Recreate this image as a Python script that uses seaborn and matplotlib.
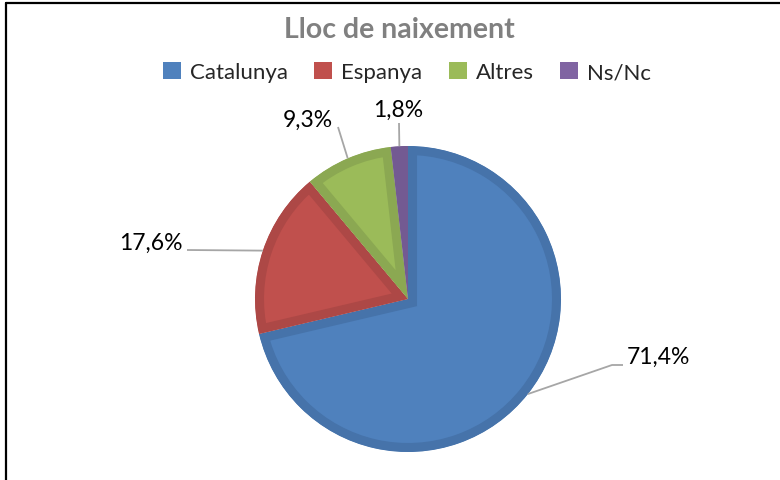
"""
Pie chart 'Lloc de naixement' (Excel style) redrawn with seaborn/matplotlib.
"""

import numpy as np
import matplotlib
matplotlib.use('Agg')
import matplotlib.pyplot as plt
import seaborn as sns
from matplotlib.lines import Line2D
from matplotlib.patches import Patch

W, H = 780, 481

categories = ['Catalunya', 'Espanya', 'Altres', 'Ns/Nc']
values = [71.4, 17.6, 9.3, 1.8]
value_labels = ['71,4%', '17,6%', '9,3%', '1,8%']
title = 'Lloc de naixement'

fill_colors = ['#4F81BD', '#C0504D', '#9BBB59', '#8064A2']
edge_colors = ['#4673AA', '#AD4846', '#8BA852', '#735A92']

# label anchor positions in pixels (x, y from top), and alignment
LABEL_POS = {
    'Catalunya': (627, 357, 'left'),
    'Espanya': (183, 243, 'right'),
    'Altres': (333, 120, 'right'),
    'Ns/Nc': (398, 110, 'center'),
}
# where each leader line ends near its label (pixels, y from top)
LEADER_END = {
    'Catalunya': [(612, 366), (623, 366)],
    'Espanya': [(187, 251)],
    'Altres': [(338, 128)],
    'Ns/Nc': [(399, 124)],
}

CENTER = (408, H - 300)
RADIUS = 153


def px(x, y):
    return x, H - y


sns.set_theme(style='white')
plt.rcParams['font.family'] = ['Lato', 'DejaVu Sans']

fig = plt.figure(figsize=(W / 100, H / 100), dpi=100)
fig.patch.set_facecolor('white')
ax = fig.add_axes([0, 0, 1, 1])

wedges, _ = ax.pie(
    values, colors=fill_colors, startangle=90, counterclock=False,
    center=CENTER, radius=RADIUS, frame=True,
)
ax.set_xlim(0, W)
ax.set_ylim(0, H)
ax.set_aspect('equal')
ax.axis('off')

# darker inner band along the wedge outline (clip the stroke to the wedge)
for w, ec in zip(wedges, edge_colors):
    w.set_edgecolor(ec)
    w.set_linewidth(13)
    w.set_clip_on(True)
    w.set_clip_path(w)

# data labels with leader lines
for w, cat, lab in zip(wedges, categories, value_labels):
    mid = np.deg2rad((w.theta1 + w.theta2) / 2)
    start = (CENTER[0] + RADIUS * np.cos(mid), CENTER[1] + RADIUS * np.sin(mid))
    pts = [start] + [px(*p) for p in LEADER_END[cat]]
    xs, ys = zip(*pts)
    ax.plot(xs, ys, color='#A6A6A6', lw=1.3, solid_capstyle='butt', zorder=3)
    tx, ty, ha = LABEL_POS[cat]
    ax.text(*px(tx, ty), lab, ha=ha, va='center', fontsize=16.5, color='black')

fig.text(399 / W, 1 - 30 / H, title, ha='center', va='center',
         fontsize=20.5, fontweight='bold', color='#808080')

handles = [Patch(facecolor=c, edgecolor='none') for c in fill_colors]
fig.legend(
    handles, categories, loc='center', bbox_to_anchor=(407 / W, 1 - 73 / H),
    ncol=4, frameon=False, fontsize=16, handlelength=0.8, handleheight=0.8,
    handletextpad=0.4, columnspacing=1.2,
)

# outer frame (only top and left edges are visible in the original)
fig.add_artist(Line2D([5.5 / W, 5.5 / W], [0, 1 - 4 / H], color='black', lw=1.6))
fig.add_artist(Line2D([5.5 / W, 1], [1 - 4 / H, 1 - 4 / H], color='black', lw=1.6))

fig.savefig('out.png', dpi=100, facecolor='white')
